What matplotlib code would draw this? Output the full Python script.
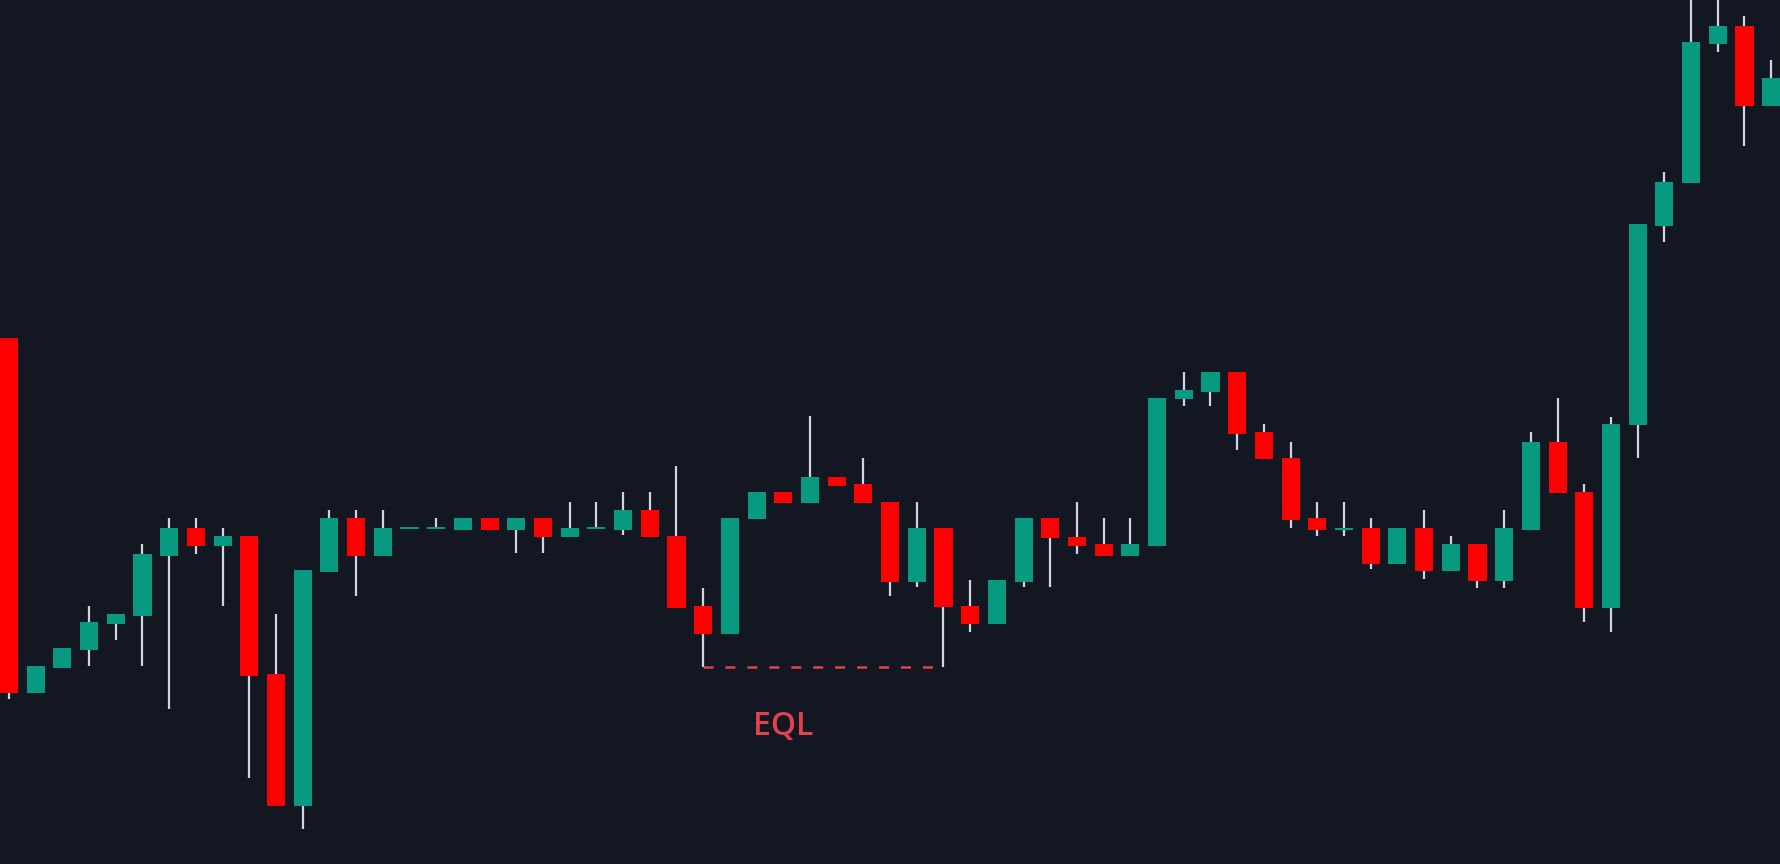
import matplotlib
matplotlib.use("Agg")
import matplotlib.pyplot as plt
import numpy as np

# OHLC data (price units)
opens = [526, 171, 196, 214, 240, 248, 308, 336, 318, 328, 190, 58, 292, 346, 308, 336, 336,
         334, 346, 334, 346, 327, 336, 334, 354, 328, 258, 230, 345, 372, 361, 387, 380,
         362, 282, 336, 258, 240, 282, 346, 327, 320, 308, 318, 465, 472, 492, 432, 406,
         346, 335, 336, 300, 336, 293, 320, 283, 334, 422, 372, 256, 439, 638, 681, 820,
         838, 758]
highs = [526, 198, 216, 258, 250, 320, 346, 346, 336, 328, 250, 294, 354, 354, 354, 336, 346,
         346, 346, 346, 346, 362, 362, 372, 372, 398, 276, 346, 372, 372, 448, 387, 406,
         362, 362, 336, 284, 284, 346, 346, 362, 346, 346, 466, 492, 492, 492, 440, 422,
         362, 362, 346, 336, 354, 328, 320, 354, 432, 466, 380, 447, 640, 692, 880, 880,
         848, 804]
lows = [165, 171, 196, 198, 224, 198, 155, 310, 258, 86, 58, 35, 292, 268, 308, 336, 336,
        334, 334, 311, 311, 327, 336, 329, 327, 256, 197, 230, 345, 361, 361, 378, 361,
        268, 277, 197, 232, 240, 277, 277, 310, 308, 308, 318, 458, 458, 414, 405, 336,
        328, 328, 295, 300, 285, 293, 276, 276, 334, 371, 242, 232, 406, 622, 681, 812,
        718, 758]
closes = [171, 198, 216, 242, 250, 310, 336, 318, 328, 188, 58, 294, 346, 308, 336, 336, 336,
          346, 334, 346, 327, 336, 336, 354, 327, 256, 230, 346, 372, 361, 387, 378, 361,
          282, 336, 257, 240, 284, 346, 326, 318, 308, 320, 466, 474, 492, 430, 405, 344,
          334, 335, 300, 336, 293, 320, 283, 336, 422, 371, 256, 440, 640, 682, 822, 838,
          758, 786]

eql_level = 197
eql_start, eql_end = 26, 35
eql_label = "EQL"

BG = "#131722"
UP = "#089981"
DOWN = "#ff0000"
WICK = "#d1d4dc"
EQL_COLOR = "#e0424f"

plt.rcParams['lines.scale_dashes'] = False
fig = plt.figure(figsize=(17.8, 8.64), dpi=100, facecolor=BG)
ax = fig.add_axes([0, 0, 1, 1])
ax.set_facecolor(BG)

x = np.arange(len(opens))
o = np.array(opens, float)
c = np.array(closes, float)
h = np.array(highs, float)
l = np.array(lows, float)
up = c >= o
colors = [UP if u else DOWN for u in up]

ax.vlines(x, l, h, color=WICK, linewidth=1.6, zorder=1)
bottoms = np.minimum(o, c)
heights = np.maximum(np.abs(c - o), 2.5)
bottoms = np.where(np.abs(c - o) < 2.5, bottoms - 1.25, bottoms)
ax.bar(x, heights, bottom=bottoms, width=0.675, color=colors, linewidth=0, zorder=2)

ax.plot([eql_start, eql_end], [eql_level, eql_level], color=EQL_COLOR,
        linewidth=1.8, linestyle=(0, (7.2, 8.6)), zorder=3)
ax.text((eql_start + eql_end) / 2 - 1.5, 137, eql_label, color=EQL_COLOR,
        fontsize=23, fontweight="semibold", family=["Open Sans", "DejaVu Sans"],
        ha="center", va="center")

ax.set_xlim(-0.337, 66.33)
ax.set_ylim(0, 864)
ax.axis("off")

fig.savefig("out.png", dpi=100, facecolor=BG)
